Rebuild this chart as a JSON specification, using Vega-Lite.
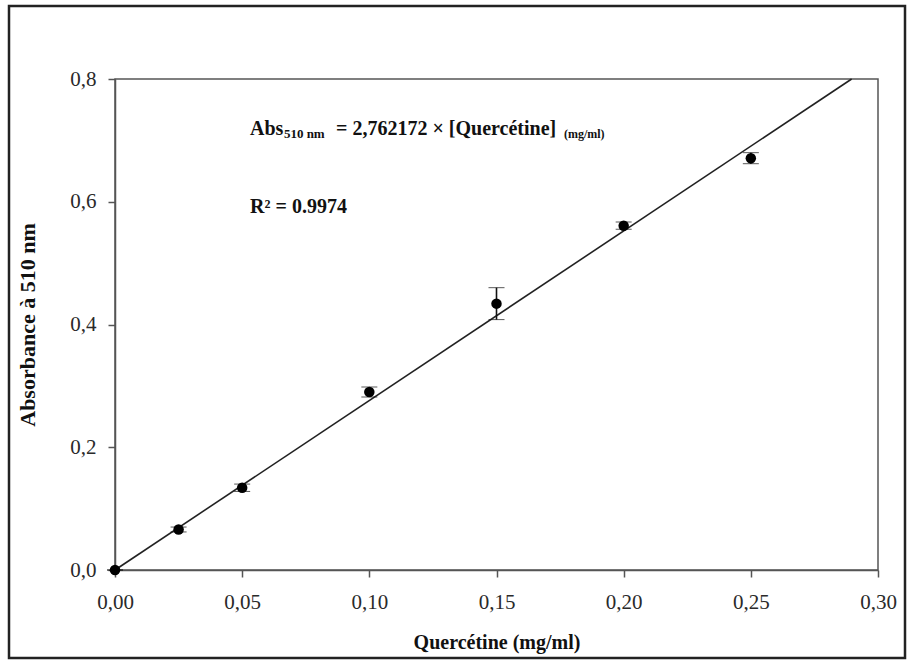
{
  "$schema": "https://vega.github.io/schema/vega-lite/v6.json",
  "width": 763,
  "height": 491,
  "autosize": {"type": "none"},
  "padding": {"left": 115, "top": 79, "right": 32, "bottom": 92},
  "background": "white",
  "config": {
    "font": "Liberation Serif",
    "view": {"stroke": "#555555", "strokeWidth": 1.5},
    "axis": {
      "labelFont": "Liberation Serif",
      "labelFontSize": 21,
      "labelColor": "#2a2a2a",
      "labelFlush": false,
      "labelOverlap": false,
      "titleFont": "Liberation Serif",
      "titleFontSize": 20,
      "titleFontWeight": "bold",
      "titleColor": "#111111",
      "domainColor": "#555555",
      "domainWidth": 1.5,
      "tickColor": "#555555",
      "tickWidth": 1.5,
      "tickSize": 7,
      "grid": false
    }
  },
  "datasets": {
    "points": [
      {"conc": 0.0, "abs": 0.0, "err": 0.0},
      {"conc": 0.025, "abs": 0.066, "err": 0.004},
      {"conc": 0.05, "abs": 0.134, "err": 0.006},
      {"conc": 0.1, "abs": 0.290, "err": 0.008},
      {"conc": 0.15, "abs": 0.434, "err": 0.026},
      {"conc": 0.2, "abs": 0.561, "err": 0.006},
      {"conc": 0.25, "abs": 0.671, "err": 0.009}
    ],
    "fit": [
      {"conc": 0.0, "abs": 0.0},
      {"conc": 0.28963, "abs": 0.8}
    ],
    "one": [{}]
  },
  "layer": [
    {
      "data": {"name": "one"},
      "mark": {"type": "rect", "fill": null, "stroke": "#222222", "strokeWidth": 2.5, "clip": false},
      "encoding": {
        "x": {"value": -106},
        "x2": {"value": 790},
        "y": {"value": -73},
        "y2": {"value": 579}
      }
    },
    {
      "data": {"name": "fit"},
      "mark": {"type": "line", "color": "#222222", "strokeWidth": 1.6},
      "encoding": {
        "x": {
          "field": "conc", "type": "quantitative",
          "title": "Quercétine (mg/ml)",
          "scale": {"domain": [0, 0.3], "nice": false},
          "axis": {
            "values": [0, 0.05, 0.1, 0.15, 0.2, 0.25, 0.3],
            "labelExpr": "replace(format(datum.value, '.2f'), '.', ',')",
            "labelPadding": 14,
            "titlePadding": 20
          }
        },
        "y": {
          "field": "abs", "type": "quantitative",
          "title": "Absorbance à 510 nm",
          "scale": {"domain": [0, 0.8], "nice": false},
          "axis": {
            "values": [0, 0.2, 0.4, 0.6, 0.8],
            "labelExpr": "replace(format(datum.value, '.1f'), '.', ',')",
            "labelPadding": 12,
            "titlePadding": 30,
            "titleFontSize": 22
          }
        }
      }
    },
    {
      "data": {"name": "points"},
      "mark": {"type": "errorbar", "ticks": {"size": 16, "color": "#111111", "strokeWidth": 1.6}, "rule": {"color": "#111111", "strokeWidth": 1.6}},
      "encoding": {
        "x": {"field": "conc", "type": "quantitative", "title": "Quercétine (mg/ml)"},
        "y": {"field": "abs", "type": "quantitative", "title": "Absorbance à 510 nm"},
        "yError": {"field": "err"}
      }
    },
    {
      "data": {"name": "points"},
      "mark": {"type": "point", "filled": true, "shape": "circle", "size": 110, "color": "#000000", "opacity": 1},
      "encoding": {
        "x": {"field": "conc", "type": "quantitative", "title": "Quercétine (mg/ml)"},
        "y": {"field": "abs", "type": "quantitative", "title": "Absorbance à 510 nm"}
      }
    },
    {
      "data": {"name": "one"},
      "mark": {"type": "text", "align": "left", "baseline": "alphabetic", "fontWeight": "bold", "fontSize": 20, "color": "#111111"},
      "encoding": {"x": {"datum": 0.0531}, "y": {"datum": 0.7088}, "text": {"value": "Abs"}}
    },
    {
      "data": {"name": "one"},
      "mark": {"type": "text", "align": "left", "baseline": "alphabetic", "fontWeight": "bold", "fontSize": 13, "color": "#111111"},
      "encoding": {"x": {"datum": 0.0664}, "y": {"datum": 0.7045}, "text": {"value": "510 nm"}}
    },
    {
      "data": {"name": "one"},
      "mark": {"type": "text", "align": "left", "baseline": "alphabetic", "fontWeight": "bold", "fontSize": 20, "color": "#111111"},
      "encoding": {"x": {"datum": 0.0869}, "y": {"datum": 0.7088}, "text": {"value": "= 2,762172 × [Quercétine]"}}
    },
    {
      "data": {"name": "one"},
      "mark": {"type": "text", "align": "left", "baseline": "alphabetic", "fontWeight": "bold", "fontSize": 12, "color": "#111111"},
      "encoding": {"x": {"datum": 0.1765}, "y": {"datum": 0.7035}, "text": {"value": "(mg/ml)"}}
    },
    {
      "data": {"name": "one"},
      "mark": {"type": "text", "align": "left", "baseline": "alphabetic", "fontWeight": "bold", "fontSize": 20, "color": "#111111"},
      "encoding": {"x": {"datum": 0.0531}, "y": {"datum": 0.5817}, "text": {"value": "R² = 0.9974"}}
    }
  ]
}
